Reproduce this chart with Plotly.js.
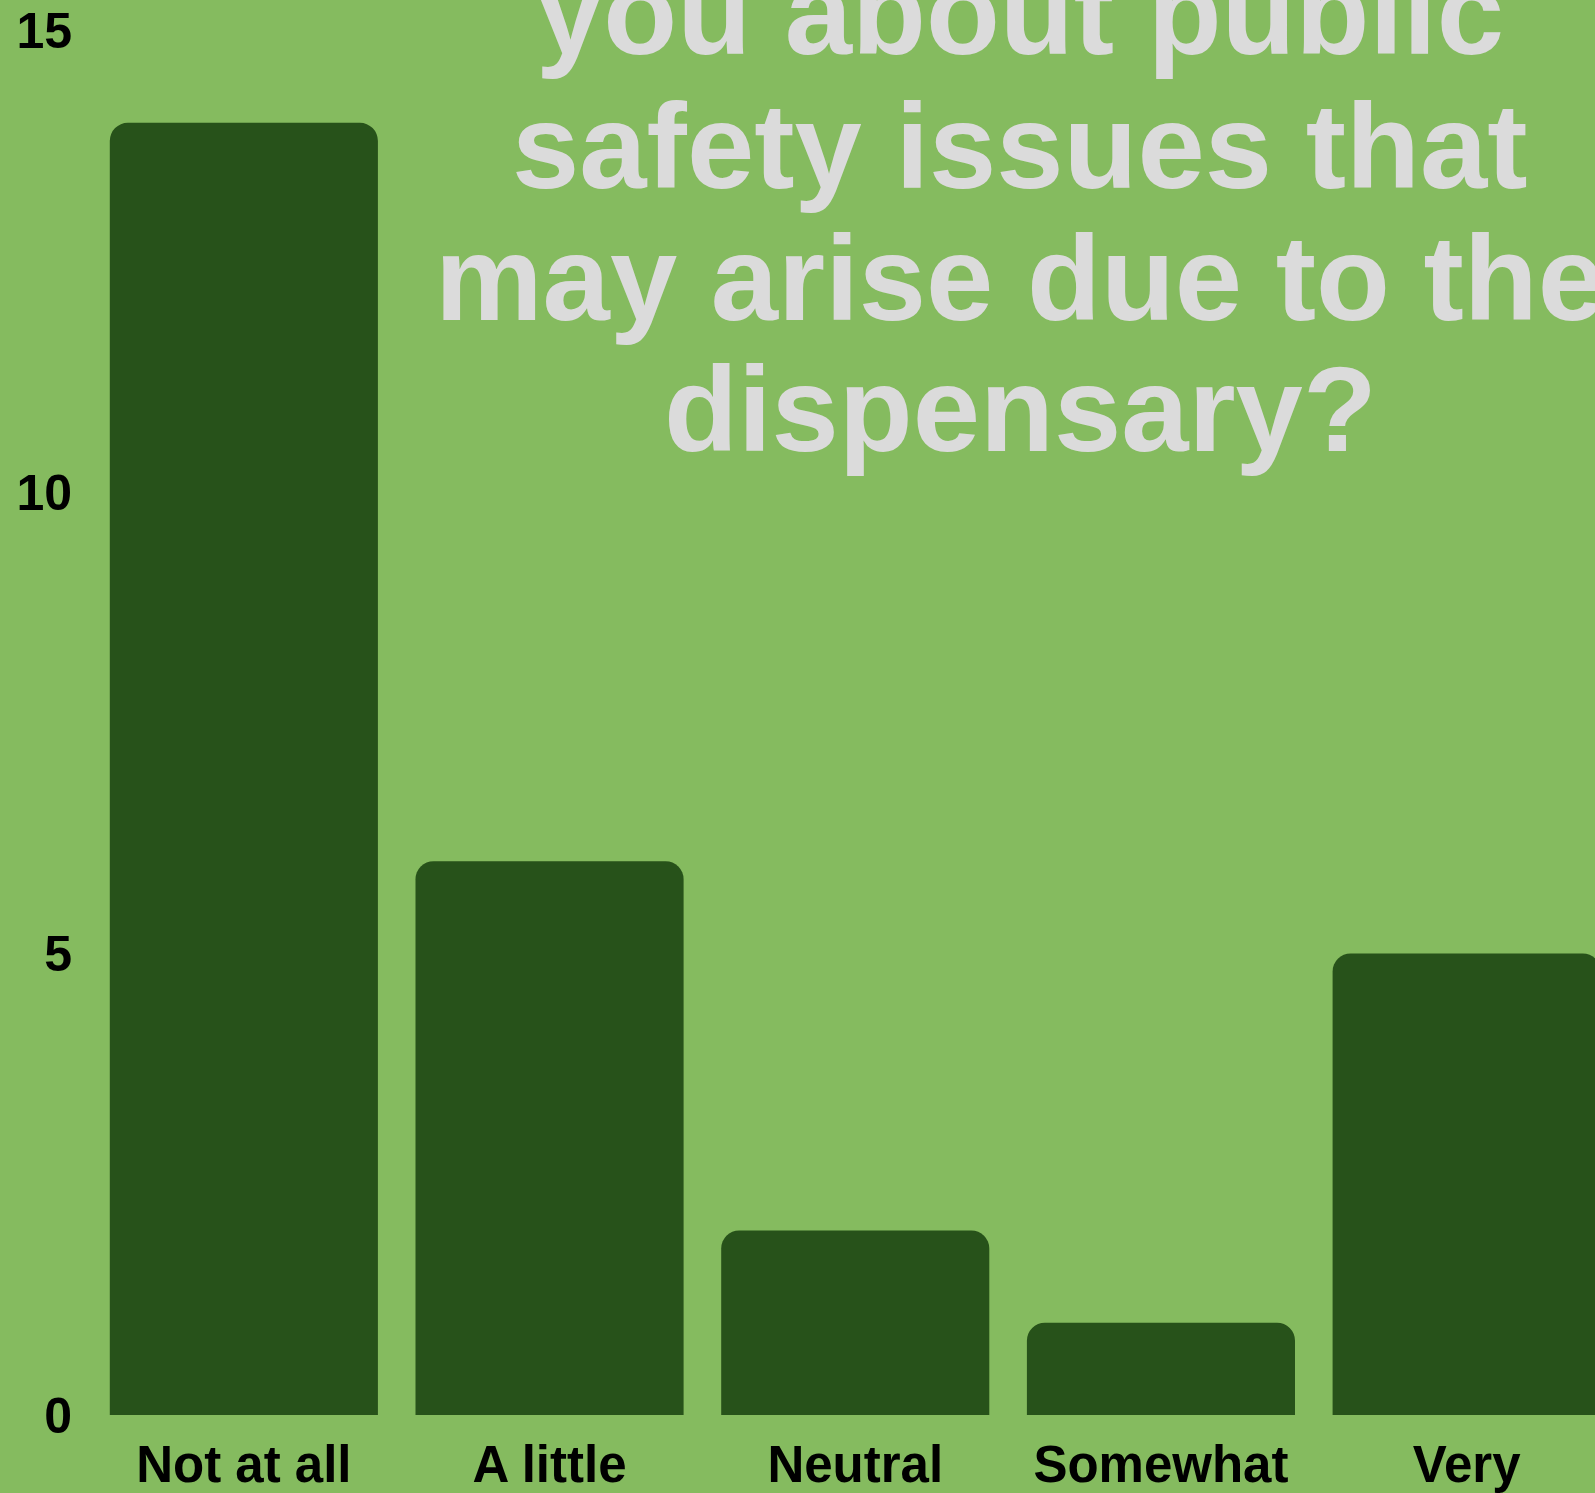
<!DOCTYPE html>
<html>
<head>
<meta charset="utf-8">
<script src="https://cdn.plot.ly/plotly-3.0.1.min.js"></script>
<style>html,body{margin:0;padding:0;background:#85BB5F;}#chart{width:1595px;height:1493px;}</style>
</head>
<body>
<div id="chart"></div>
<script>
const categories = ['Not at all', 'A little', 'Neutral', 'Somewhat', 'Very'];
const counts = [14, 6, 2, 1, 5];
const yTickVals = [0, 5, 10, 15];
const yTickText = ['0', '5', '10', '15'];
const titleLines = ['you about public', 'safety issues that', 'may arise due to the', 'dispensary?'];

const BG = '#85BB5F';
const BAR = '#27521A';
const TITLE_COLOR = '#DBDBDB';
const FONT = 'Liberation Sans, Arial, sans-serif';

const W = 1595, H = 1493;
const margin = {l: 91, r: 0, t: 0, b: 78};
const plotH = H - margin.t - margin.b;
const plotW = W - margin.l - margin.r;

// title line centres in pixels from top of plot area
const lineCentersPx = [12, 146, 278, 409];
const titleCenterPx = 1020;

const annotations = titleLines.map((t, i) => ({
  text: t,
  xref: 'paper', yref: 'paper',
  x: (titleCenterPx - margin.l) / plotW,
  y: 1 - lineCentersPx[i] / plotH,
  xanchor: 'center', yanchor: 'middle',
  showarrow: false,
  font: {family: FONT, size: 121, color: TITLE_COLOR, weight: 'bold'}
}));

const trace = {
  type: 'bar',
  x: categories,
  y: counts,
  marker: {color: BAR, cornerradius: 18, line: {width: 0}},
  hoverinfo: 'none'
};

const layout = {
  width: W, height: H,
  margin: margin,
  paper_bgcolor: BG,
  plot_bgcolor: BG,
  showlegend: false,
  bargap: 0.123,
  xaxis: {
    type: 'category',
    range: [-0.5, -0.5 + plotW / 305.7],
    showgrid: false, zeroline: false, showline: false,
    ticks: '',
    ticklabelstandoff: 15,
    tickfont: {family: FONT, size: 51, color: '#000', weight: 'bold'},
    fixedrange: true
  },
  yaxis: {
    range: [0, plotH / 92.3],
    tickvals: yTickVals,
    ticktext: yTickText,
    showgrid: false, zeroline: false, showline: false,
    ticks: '',
    ticklabelstandoff: 18,
    tickfont: {family: FONT, size: 50, color: '#000', weight: 'bold'},
    fixedrange: true
  },
  annotations: annotations
};

Plotly.newPlot('chart', [trace], layout, {displayModeBar: false, staticPlot: true});
</script>
</body>
</html>
